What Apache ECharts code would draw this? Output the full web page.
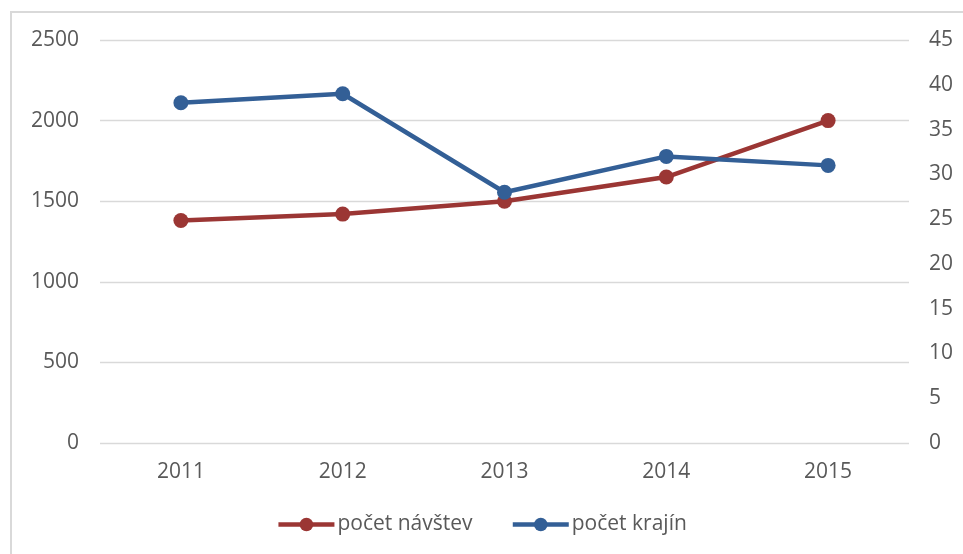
<!DOCTYPE html>
<html><head><meta charset="utf-8">
<script src="https://cdn.jsdelivr.net/npm/echarts@6/dist/echarts.min.js"></script>
<style>html,body{margin:0;padding:0;background:#fff}#c{width:963px;height:554px}</style>
</head><body><div id="c"></div>
<script>
const categories = ['2011','2012','2013','2014','2015'];
const navstevy = [1380, 1420, 1500, 1650, 2000];
const krajiny = [38, 39, 28, 32, 31];
const seriesNames = ['počet návštev', 'počet krajín'];

const chart = echarts.init(document.getElementById('c'), null, {renderer:'canvas'});
const font = "'Open Sans', 'Liberation Sans', sans-serif";
const labelStyle = {color:'#595959', fontSize:21, fontFamily:font};
chart.setOption({
  animation:false,
  graphic:[{type:'rect', shape:{x:11,y:12,width:1000,height:600}, style:{fill:null, stroke:'#d9d9d9', lineWidth:2}, silent:true}],
  grid:{left:100, right:54, top:40, bottom:111},
  legend:{bottom:14, left:'center', itemWidth:56, itemHeight:17, itemGap:38,
    lineStyle:{width:4.5},
    textStyle:{color:'#595959', fontSize:21, fontFamily:font, padding:[0,0,0,-2]},
    data:seriesNames},
  xAxis:{type:'category', data:categories, boundaryGap:true,
    axisLine:{show:false}, axisTick:{show:false},
    axisLabel:Object.assign({margin:19}, labelStyle)},
  yAxis:[
    {type:'value', min:0, max:2500, interval:500, position:'left',
     axisLine:{show:false}, axisTick:{show:false},
     axisLabel:Object.assign({margin:21, formatter:v=>String(v)}, labelStyle),
     splitLine:{lineStyle:{color:'#d9d9d9', width:1.3}}},
    {type:'value', min:0, max:45, interval:5, position:'right',
     axisLine:{show:false}, axisTick:{show:false},
     axisLabel:Object.assign({margin:20, formatter:v=>String(v)}, labelStyle),
     splitLine:{show:false}}
  ],
  series:[
    {name:seriesNames[0], type:'line', data:navstevy, yAxisIndex:0,
     symbol:'circle', symbolSize:15, color:'#9B3634',
     lineStyle:{width:4.5, color:'#9B3634'}, itemStyle:{color:'#9B3634'}},
    {name:seriesNames[1], type:'line', data:krajiny, yAxisIndex:1,
     symbol:'circle', symbolSize:15, color:'#335F96',
     lineStyle:{width:4.5, color:'#335F96'}, itemStyle:{color:'#335F96'}}
  ]
});
</script></body></html>
